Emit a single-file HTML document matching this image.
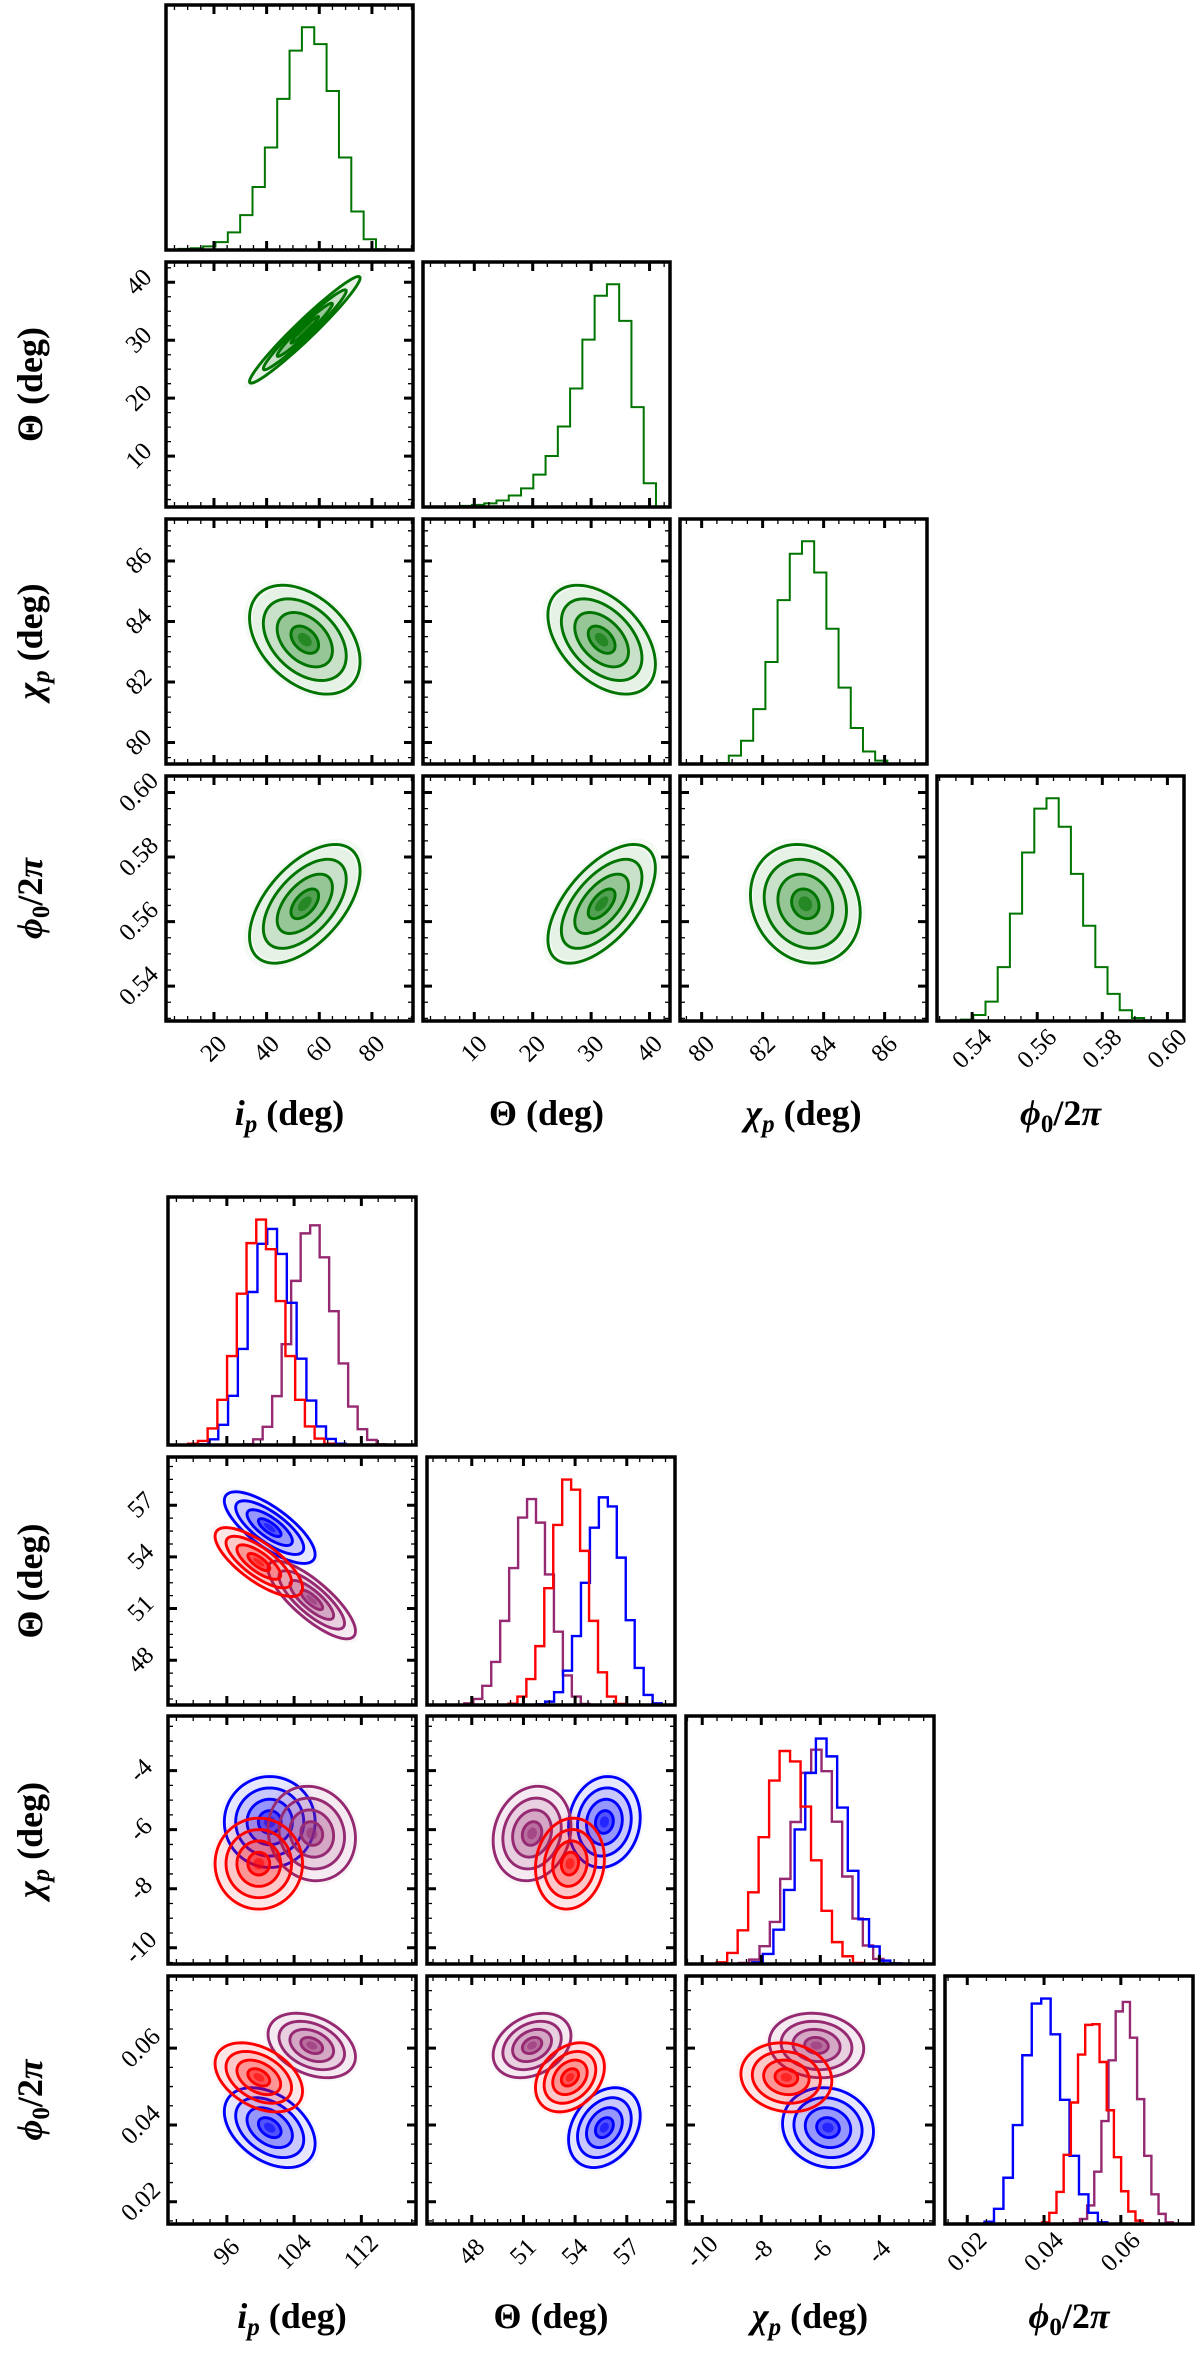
<!DOCTYPE html>
<html><head><meta charset="utf-8">
<style>
html,body{margin:0;padding:0;background:#fff;}
svg{display:block;}
text{font-family:"Liberation Serif","DejaVu Serif",serif;fill:#000;}
</style></head>
<body>
<svg id="fig" width="1200" height="2362" viewBox="0 0 1200 2362" xmlns="http://www.w3.org/2000/svg"></svg>
<script>
// ===== Top (green) set data =====
const topIpHistStart = 6.5, topIpHistWidth = 4.69;
const topIpCounts = [3,5,10,22,49,97,175,285,420,554,619,572,442,257,107,30,2];
const topThHistStart = 7.5, topThHistWidth = 2.1;
const topThCounts = [3,6,10,18,32,52,90,142,224,330,466,588,620,518,278,66];
const topChiHistStart = 80.49, topChiHistWidth = 0.40;
const topChiCounts = [3,25,69,163,303,487,625,662,569,402,227,107,37,10];
const topPhiHistStart = 0.5366, topPhiHistWidth = 0.00375;
const topPhiCounts = [4,18,58,161,321,504,635,666,581,440,285,161,81,32,9,2];
const topMeans = [54.5, 31.8, 83.4, 0.5655];
const topSigmas = [10.5, 4.6, 0.9, 0.0092];
// correlations: [ip-th, ip-chi, th-chi, ip-phi, th-phi, chi-phi]
const topCorr = [0.97, -0.4, -0.45, 0.55, 0.6, -0.15];
const topRanges = [[1.78,95.6],[1.22,43.5],[79.29,87.39],[0.5292,0.6051]];
const topMajor = [[20,40,60,80],[10,20,30,40],[80,82,84,86],[0.54,0.56,0.58,0.60]];
const topMinorStep = [5,2.5,0.5,0.005];
const topTickLabels = [["20","40","60","80"],["10","20","30","40"],["80","82","84","86"],["0.54","0.56","0.58","0.60"]];

// ===== Bottom (blue/red/purple) set data =====
const botSeriesNames = ["blue","red","purple"];
const botIpStarts = [92.65, 91.4, 98.0];
const botIpWidths = [1.165, 1.157, 1.13];
const botIpBlue = [2,17,60,146,285,454,597,641,567,422,256,132,55,18,4];
const botIpRed = [4,12,49,134,264,449,599,669,581,427,264,134,55,19,4];
const botIpPurple = [2,17,54,145,299,487,628,652,557,397,242,114,47,15,2];
const botThStarts = [51.74, 50.13, 47.57];
const botThWidths = [0.52, 0.52, 0.52];
const botThBlue = [2,10,38,102,205,363,527,617,590,438,252,110,30,5];
const botThRed = [4,25,77,175,347,535,670,640,458,250,97,25,3];
const botThPurple = [5,18,57,128,250,407,557,612,542,388,218,88,25,3];
const botChiStarts = [-8.31, -9.51, -8.76];
const botChiWidths = [0.36, 0.355, 0.35];
const botChiBlue = [5,30,102,220,400,568,670,617,465,277,133,52,10,2];
const botChiRed = [5,33,100,213,377,545,633,602,468,308,158,65,23,3];
const botChiPurple = [3,13,53,125,253,422,568,637,573,423,260,135,55,15];
const botPhiStarts = [0.0245, 0.0395, 0.0475];
const botPhiWidths = [0.00246, 0.00187, 0.00186];
const botPhiBlue = [7,45,137,293,500,653,668,562,368,202,88,33,5];
const botPhiRed = [5,33,95,205,360,502,590,592,480,337,198,97,37,10,2];
const botPhiPurple = [2,15,55,155,305,485,630,658,552,370,202,88,30,5];
// means per series [ip, th, chi, phi]
const botMeansBlue = [101.1, 55.7, -5.74, 0.0393];
const botMeansRed = [99.8, 53.7, -7.15, 0.0524];
const botMeansPurple = [106.1, 51.5, -6.13, 0.0607];
const botSigmasBlue = [2.7, 1.04, 0.77, 0.0052];
const botSigmasRed = [2.6, 1.0, 0.77, 0.0045];
const botSigmasPurple = [2.6, 1.13, 0.8, 0.0042];
// correlations: [ip-th, ip-chi, th-chi, ip-phi, th-phi, chi-phi]
const botCorrBlue = [-0.75, 0.0, 0.1, -0.4, 0.3, -0.1];
const botCorrRed = [-0.75, 0.0, 0.1, -0.4, 0.3, -0.1];
const botCorrPurple = [-0.8, -0.1, 0.15, -0.35, 0.3, -0.1];
const botRanges = [[89.0,118.5],[45.4,59.8],[-10.55,-2.15],[0.0142,0.0788]];
const botMajor = [[96,104,112],[48,51,54,57],[-10,-8,-6,-4],[0.02,0.04,0.06]];
const botMinorStep = [2,0.75,0.5,0.005];
const botTickLabels = [["96","104","112"],["48","51","54","57"],["-10","-8","-6","-4"],["0.02","0.04","0.06"]];

// ===== rendering =====
const NS = "http://www.w3.org/2000/svg";
const svg = document.getElementById("fig");
function mk(tag, attrs, parent){
  const e = document.createElementNS(NS, tag);
  for (const k in attrs) e.setAttribute(k, attrs[k]);
  (parent||svg).appendChild(e);
  return e;
}
const corrIndex = {"0,1":0,"0,2":1,"1,2":2,"0,3":3,"1,3":4,"2,3":5};
let clipId = 0;

function linScale(d0,d1,r0,r1){ return v => r0 + (v-d0)/(d1-d0)*(r1-r0); }

function drawTicks(g, L, T, W, H, sx, sy, xr, yr, xMajor, yMajor, xMinStep, yMinStep, isHist){
  const path = [];
  const minor = [];
  function minors(r, step){
    const out=[]; let v = Math.ceil(r[0]/step - 1e-9)*step;
    for (; v <= r[1]+1e-12; v += step) out.push(v);
    return out;
  }
  minors(xr, xMinStep).forEach(v=>{ const x=sx(v); minor.push(`M${x},${T+H}v-5M${x},${T}v5`); });
  xMajor.forEach(v=>{ const x=sx(v); path.push(`M${x},${T+H}v-9M${x},${T}v9`); });
  if (!isHist){
    minors(yr, yMinStep).forEach(v=>{ const y=sy(v); minor.push(`M${L},${y}h5M${L+W},${y}h-5`); });
    yMajor.forEach(v=>{ const y=sy(v); path.push(`M${L},${y}h9M${L+W},${y}h-9`); });
  }
  const mn = mk("path",{d:minor.join(""),stroke:"#000","stroke-width":1.3,fill:"none"},g);
  
  
  const mj = mk("path",{d:path.join(""),stroke:"#000","stroke-width":3,fill:"none"},g);
  
  
}

function ellipsePath(sx, sy, mx, my, sdx, sdy, rho, k){
  const n = 72, pts = [];
  const s = Math.sqrt(Math.max(0,1-rho*rho));
  for (let i=0;i<n;i++){
    const t = i/n*2*Math.PI;
    const dx = k*sdx*Math.cos(t);
    const dy = k*sdy*(rho*Math.cos(t) + s*Math.sin(t));
    pts.push((i?"L":"M")+sx(mx+dx).toFixed(2)+","+sy(my+dy).toFixed(2));
  }
  return pts.join("")+"Z";
}

function drawCorner(cfg){
  const n = 4;
  for (let r=0;r<n;r++){
    for (let c=0;c<=r;c++){
      const L = cfg.x0[c], T = cfg.y0[r], W = cfg.w, H = cfg.h;
      const g = mk("g",{});
      
      
      const cid = "clip"+(clipId++);
      const cp = mk("clipPath",{id:cid},g);
      mk("rect",{x:L,y:T,width:W,height:H},cp);
      const inner = mk("g",{"clip-path":`url(#${cid})`},g);
      const sx = linScale(cfg.ranges[c][0], cfg.ranges[c][1], L, L+W);
      if (r===c){
        const hs = cfg.hists[c];
        let mx = 0; hs.forEach(h=>h.counts.forEach(v=>{ if(v>mx) mx=v; }));
        const sy = linScale(0, mx*1.1, T+H, T);
        hs.forEach(h=>{
          let d = `M${sx(h.start)},${T+H}`;
          h.counts.forEach((v,i)=>{
            const x0 = sx(h.start+i*h.width), x1 = sx(h.start+(i+1)*h.width);
            d += `L${x0},${sy(v)}L${x1},${sy(v)}`;
          });
          d += `L${sx(h.start+h.counts.length*h.width)},${T+H}`;
          const p = mk("path",{d:d,fill:"none",stroke:h.color,"stroke-width":cfg.histWidth,"stroke-linejoin":"miter"},inner);
          
          
        });
        drawTicks(g,L,T,W,H,sx,null,cfg.ranges[c],null,cfg.major[c],[],cfg.minorStep[c],1,true);
      } else {
        const sy = linScale(cfg.ranges[r][0], cfg.ranges[r][1], T+H, T);
        const ci = corrIndex[c+","+r];
        cfg.series.forEach(s=>{
          const mxv = s.means[c], myv = s.means[r], sdx = s.sig[c], sdy = s.sig[r], rho = s.corr[ci];
          const fills = [[2.2,0.04],[1.9,0.06],[1.5,0.13],[1.0,0.25],[0.5,0.45],[0.25,0.55]];
          fills.forEach(f=>{
            const e = mk("path",{d:ellipsePath(sx,sy,mxv,myv,sdx,sdy,rho,f[0]),fill:s.color,"fill-opacity":f[1],stroke:"none"},inner);
            
            
          });
          [0.5,1,1.5,2].forEach(k=>{
            const e = mk("path",{d:ellipsePath(sx,sy,mxv,myv,sdx,sdy,rho,k),fill:"none",stroke:s.color,"stroke-width":2.9},inner);
            
            
          });
        });
        drawTicks(g,L,T,W,H,sx,sy,cfg.ranges[c],cfg.ranges[r],cfg.major[c],cfg.major[r],cfg.minorStep[c],cfg.minorStep[r],false);
        if (c===0){
          cfg.major[r].forEach((v,i)=>{
            const y = sy(v), x = L-27;
            const t = mk("text",{x:x,y:y,"font-size":25,"text-anchor":"middle","dominant-baseline":"central",transform:`rotate(-45 ${x} ${y})`},g);
            t.textContent = cfg.tickLabels[r][i];
            
            
          });
        }
      }
      const frame = mk("rect",{x:L,y:T,width:W,height:H,fill:"none",stroke:"#000","stroke-width":3.5},g);
      
      
      if (r===n-1){
        cfg.major[c].forEach((v,i)=>{
          const x = sx(v), y = T+H+28;
          const t = mk("text",{x:x,y:y,"font-size":25,"text-anchor":"middle","dominant-baseline":"central",transform:`rotate(-45 ${x} ${y})`},g);
          t.textContent = cfg.tickLabels[c][i];
          
          
        });
      }
    }
  }
  // axis labels
  const labels = [
    '<tspan font-style="italic">i</tspan><tspan font-style="italic" font-size="25" dy="7">p</tspan><tspan dy="-7"> (deg)</tspan>',
    'Θ (deg)',
    '<tspan font-style="italic">χ</tspan><tspan font-style="italic" font-size="25" dy="7">p</tspan><tspan dy="-7"> (deg)</tspan>',
    '<tspan font-style="italic">ϕ</tspan><tspan font-size="25" dy="7">0</tspan><tspan dy="-7">/2</tspan><tspan font-style="italic">π</tspan>'
  ];
  const lnames = ['ip','theta','chi','phi'];
  for (let c=0;c<4;c++){
    const t = mk("text",{x:cfg.x0[c]+cfg.w/2,y:cfg.y0[3]+cfg.h+104,"font-size":36,"font-weight":"bold","text-anchor":"middle"});
    t.innerHTML = labels[c];
    
    
  }
  for (let r=1;r<4;r++){
    const yc = cfg.y0[r]+cfg.h/2, xc = 42;
    const t = mk("text",{x:xc,y:yc,"font-size":36,"font-weight":"bold","text-anchor":"middle",transform:`rotate(-90 ${xc} ${yc})`});
    t.innerHTML = labels[r];
    
    
  }
}

const GREEN = "#007400", BLUE = "#0000ff", RED = "#ff0000", PURPLE = "#962a72";
drawCorner({
  prefix:"top", names:["ip","theta","chi","phi"],
  x0:[166,423,680,937], y0:[5,262,519,776], w:247, h:245,
  ranges:topRanges, major:topMajor, minorStep:topMinorStep, tickLabels:topTickLabels,
  histWidth:2,
  hists:[
    [{name:"green",color:GREEN,start:topIpHistStart,width:topIpHistWidth,counts:topIpCounts}],
    [{name:"green",color:GREEN,start:topThHistStart,width:topThHistWidth,counts:topThCounts}],
    [{name:"green",color:GREEN,start:topChiHistStart,width:topChiHistWidth,counts:topChiCounts}],
    [{name:"green",color:GREEN,start:topPhiHistStart,width:topPhiHistWidth,counts:topPhiCounts}]
  ],
  series:[{name:"green",color:GREEN,means:topMeans,sig:topSigmas,corr:topCorr}]
});
drawCorner({
  prefix:"bottom", names:["ip","theta","chi","phi"],
  x0:[168,427,686,945], y0:[1197,1457,1716,1976], w:248, h:248,
  ranges:botRanges, major:botMajor, minorStep:botMinorStep, tickLabels:botTickLabels,
  histWidth:2.4,
  hists:[
    [{name:"purple",color:PURPLE,start:botIpStarts[2],width:botIpWidths[2],counts:botIpPurple},
     {name:"blue",color:BLUE,start:botIpStarts[0],width:botIpWidths[0],counts:botIpBlue},
     {name:"red",color:RED,start:botIpStarts[1],width:botIpWidths[1],counts:botIpRed}],
    [{name:"purple",color:PURPLE,start:botThStarts[2],width:botThWidths[2],counts:botThPurple},
     {name:"blue",color:BLUE,start:botThStarts[0],width:botThWidths[0],counts:botThBlue},
     {name:"red",color:RED,start:botThStarts[1],width:botThWidths[1],counts:botThRed}],
    [{name:"purple",color:PURPLE,start:botChiStarts[2],width:botChiWidths[2],counts:botChiPurple},
     {name:"blue",color:BLUE,start:botChiStarts[0],width:botChiWidths[0],counts:botChiBlue},
     {name:"red",color:RED,start:botChiStarts[1],width:botChiWidths[1],counts:botChiRed}],
    [{name:"purple",color:PURPLE,start:botPhiStarts[2],width:botPhiWidths[2],counts:botPhiPurple},
     {name:"blue",color:BLUE,start:botPhiStarts[0],width:botPhiWidths[0],counts:botPhiBlue},
     {name:"red",color:RED,start:botPhiStarts[1],width:botPhiWidths[1],counts:botPhiRed}]
  ],
  series:[
    {name:"blue",color:BLUE,means:botMeansBlue,sig:botSigmasBlue,corr:botCorrBlue},
    {name:"purple",color:PURPLE,means:botMeansPurple,sig:botSigmasPurple,corr:botCorrPurple},
    {name:"red",color:RED,means:botMeansRed,sig:botSigmasRed,corr:botCorrRed}
  ]
});
</script>
</body></html>
